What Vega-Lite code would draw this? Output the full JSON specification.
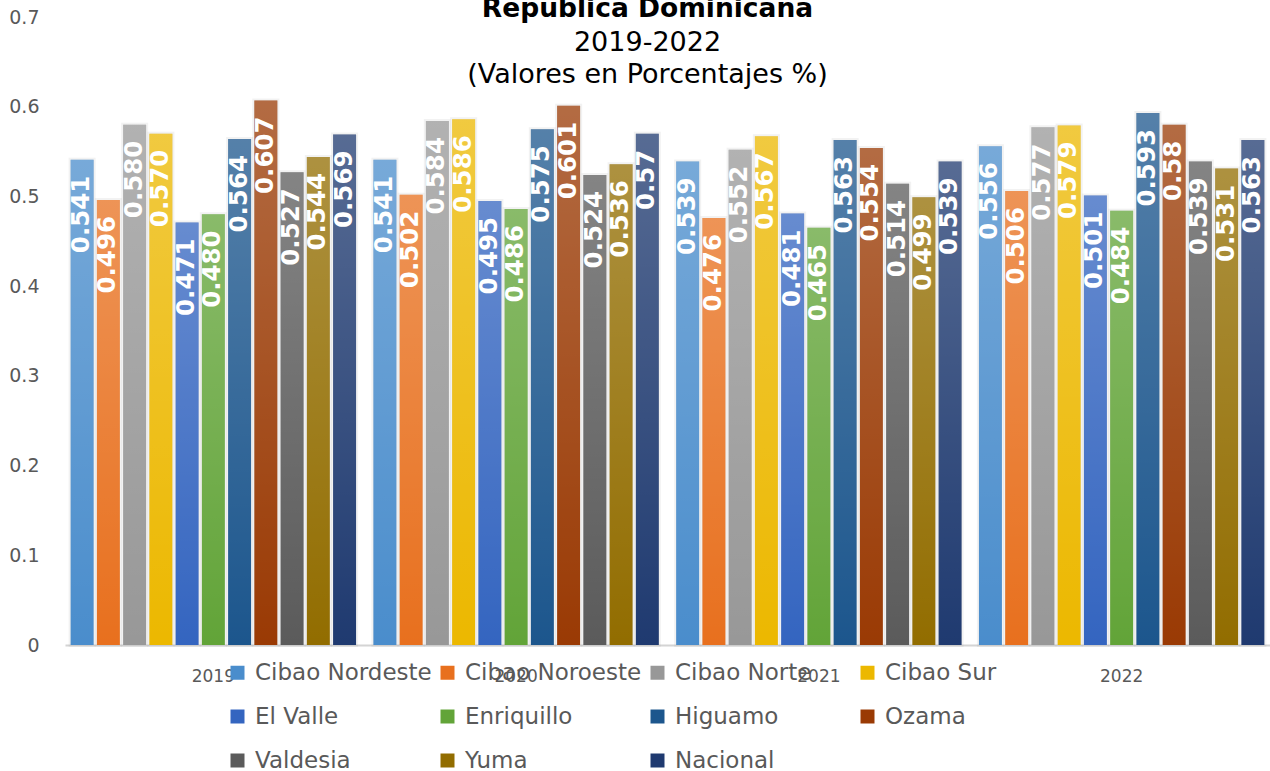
{
  "$schema": "https://vega.github.io/schema/vega-lite/v6.json",
  "width": 1205,
  "height": 628,
  "autosize": {"type": "none"},
  "padding": {"left": 65, "top": 17, "right": 0, "bottom": 126},
  "background": "white",
  "config": {"view": {"stroke": null}, "font": "DejaVu Sans"},
  "title": {
    "text": "República Dominicana",
    "subtitle": ["2019-2022", "(Valores en Porcentajes %)"],
    "anchor": "middle",
    "frame": "group",
    "offset": -80,
    "dx": -20,
    "font": "DejaVu Sans",
    "fontSize": 26.5,
    "fontWeight": "bold",
    "color": "#000000",
    "subtitleFont": "DejaVu Sans",
    "subtitleFontSize": 27,
    "subtitleColor": "#000000",
    "subtitlePadding": 8,
    "subtitleLineHeight": 32
  },
  "data": {
    "values": [
      {"year": "2019", "region": "Cibao Nordeste", "value": 0.541, "label": "0.541"},
      {"year": "2019", "region": "Cibao Noroeste", "value": 0.496, "label": "0.496"},
      {"year": "2019", "region": "Cibao Norte", "value": 0.580, "label": "0.580"},
      {"year": "2019", "region": "Cibao Sur", "value": 0.570, "label": "0.570"},
      {"year": "2019", "region": "El Valle", "value": 0.471, "label": "0.471"},
      {"year": "2019", "region": "Enriquillo", "value": 0.480, "label": "0.480"},
      {"year": "2019", "region": "Higuamo", "value": 0.564, "label": "0.564"},
      {"year": "2019", "region": "Ozama", "value": 0.607, "label": "0.607"},
      {"year": "2019", "region": "Valdesia", "value": 0.527, "label": "0.527"},
      {"year": "2019", "region": "Yuma", "value": 0.544, "label": "0.544"},
      {"year": "2019", "region": "Nacional", "value": 0.569, "label": "0.569"},
      {"year": "2020", "region": "Cibao Nordeste", "value": 0.541, "label": "0.541"},
      {"year": "2020", "region": "Cibao Noroeste", "value": 0.502, "label": "0.502"},
      {"year": "2020", "region": "Cibao Norte", "value": 0.584, "label": "0.584"},
      {"year": "2020", "region": "Cibao Sur", "value": 0.586, "label": "0.586"},
      {"year": "2020", "region": "El Valle", "value": 0.495, "label": "0.495"},
      {"year": "2020", "region": "Enriquillo", "value": 0.486, "label": "0.486"},
      {"year": "2020", "region": "Higuamo", "value": 0.575, "label": "0.575"},
      {"year": "2020", "region": "Ozama", "value": 0.601, "label": "0.601"},
      {"year": "2020", "region": "Valdesia", "value": 0.524, "label": "0.524"},
      {"year": "2020", "region": "Yuma", "value": 0.536, "label": "0.536"},
      {"year": "2020", "region": "Nacional", "value": 0.57, "label": "0.57"},
      {"year": "2021", "region": "Cibao Nordeste", "value": 0.539, "label": "0.539"},
      {"year": "2021", "region": "Cibao Noroeste", "value": 0.476, "label": "0.476"},
      {"year": "2021", "region": "Cibao Norte", "value": 0.552, "label": "0.552"},
      {"year": "2021", "region": "Cibao Sur", "value": 0.567, "label": "0.567"},
      {"year": "2021", "region": "El Valle", "value": 0.481, "label": "0.481"},
      {"year": "2021", "region": "Enriquillo", "value": 0.465, "label": "0.465"},
      {"year": "2021", "region": "Higuamo", "value": 0.563, "label": "0.563"},
      {"year": "2021", "region": "Ozama", "value": 0.554, "label": "0.554"},
      {"year": "2021", "region": "Valdesia", "value": 0.514, "label": "0.514"},
      {"year": "2021", "region": "Yuma", "value": 0.499, "label": "0.499"},
      {"year": "2021", "region": "Nacional", "value": 0.539, "label": "0.539"},
      {"year": "2022", "region": "Cibao Nordeste", "value": 0.556, "label": "0.556"},
      {"year": "2022", "region": "Cibao Noroeste", "value": 0.506, "label": "0.506"},
      {"year": "2022", "region": "Cibao Norte", "value": 0.577, "label": "0.577"},
      {"year": "2022", "region": "Cibao Sur", "value": 0.579, "label": "0.579"},
      {"year": "2022", "region": "El Valle", "value": 0.501, "label": "0.501"},
      {"year": "2022", "region": "Enriquillo", "value": 0.484, "label": "0.484"},
      {"year": "2022", "region": "Higuamo", "value": 0.593, "label": "0.593"},
      {"year": "2022", "region": "Ozama", "value": 0.58, "label": "0.58"},
      {"year": "2022", "region": "Valdesia", "value": 0.539, "label": "0.539"},
      {"year": "2022", "region": "Yuma", "value": 0.531, "label": "0.531"},
      {"year": "2022", "region": "Nacional", "value": 0.563, "label": "0.563"}
    ]
  },
  "encoding": {
    "x": {
      "field": "year",
      "type": "ordinal",
      "scale": {"paddingInner": 0.04, "paddingOuter": 0.01},
      "axis": {
        "title": null,
        "labelAngle": 0,
        "labelFont": "DejaVu Sans",
        "labelFontSize": 17,
        "labelColor": "#595959",
        "labelPadding": 23,
        "ticks": false,
        "domainColor": "#d4d4d4",
        "domainWidth": 2
      }
    },
    "xOffset": {
      "field": "region",
      "type": "nominal",
      "sort": ["Cibao Nordeste", "Cibao Noroeste", "Cibao Norte", "Cibao Sur", "El Valle", "Enriquillo", "Higuamo", "Ozama", "Valdesia", "Yuma", "Nacional"],
      "scale": {"paddingInner": 0.125, "paddingOuter": 0.1}
    },
    "y": {
      "field": "value",
      "type": "quantitative",
      "scale": {"domain": [0, 0.7], "nice": false},
      "axis": {
        "title": null,
        "values": [0, 0.1, 0.2, 0.3, 0.4, 0.5, 0.6, 0.7],
        "labelExpr": "datum.value == 0 ? '0' : format(datum.value, '.1f')",
        "labelFont": "DejaVu Sans",
        "labelFontSize": 19,
        "labelColor": "#595959",
        "labelPadding": 26,
        "domain": false,
        "ticks": false,
        "grid": false
      }
    }
  },
  "layer": [
    {
      "mark": {"type": "bar", "color": "#9a9a9a", "opacity": 0.35, "stroke": "#9a9a9a", "strokeWidth": 4, "strokeOpacity": 0.35}
    },
    {
      "mark": {"type": "bar"},
      "encoding": {
        "color": {
          "field": "region",
          "type": "nominal",
          "scale": {
            "domain": ["Cibao Nordeste", "Cibao Noroeste", "Cibao Norte", "Cibao Sur", "El Valle", "Enriquillo", "Higuamo", "Ozama", "Valdesia", "Yuma", "Nacional"],
            "range": ["#4a8dcc", "#e8701e", "#989898", "#ecb800", "#3465c0", "#62a438", "#1c568d", "#9a3a04", "#5b5b5b", "#926d00", "#1f3a70"]
          },
          "legend": {
            "title": null,
            "orient": "none",
            "legendX": 161,
            "legendY": 644,
            "direction": "horizontal",
            "columns": 4,
            "gridAlign": "all",
            "symbolType": "square",
            "symbolSize": 196,
            "symbolStrokeWidth": 0,
            "labelFont": "DejaVu Sans",
            "labelFontSize": 23,
            "labelColor": "#595959",
            "labelOffset": 6,
            "labelLimit": 400,
            "columnPadding": 4,
            "rowPadding": 20,
            "padding": 0
          }
        }
      }
    },
    {
      "mark": {
        "type": "bar",
        "color": {
          "gradient": "linear",
          "x1": 0, "y1": 0, "x2": 0, "y2": 1,
          "stops": [
            {"offset": 0, "color": "rgba(255,255,255,0.25)"},
            {"offset": 1, "color": "rgba(255,255,255,0)"}
          ]
        }
      }
    },
    {
      "mark": {
        "type": "text",
        "angle": 270,
        "align": "right",
        "baseline": "middle",
        "dx": -16,
        "font": "DejaVu Sans",
        "fontSize": 24.5,
        "fontWeight": "bold",
        "color": "#ffffff"
      },
      "encoding": {"text": {"field": "label"}}
    }
  ]
}
